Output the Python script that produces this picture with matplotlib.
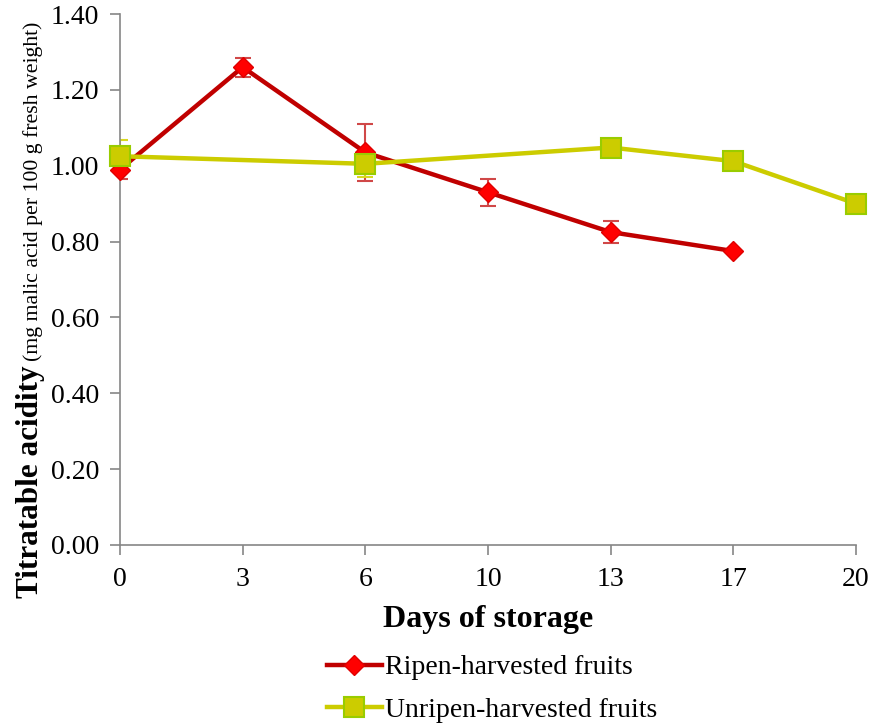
import matplotlib
matplotlib.use("Agg")
import matplotlib.pyplot as plt
import numpy as np

days = ["0", "3", "6", "10", "13", "17", "20"]
ripen_days = ["0", "3", "6", "10", "13", "17"]
ripen_vals = [0.99, 1.26, 1.035, 0.93, 0.825, 0.775]
ripen_err = [0.025, 0.025, 0.075, 0.035, 0.03, 0.0]
unripen_days = ["0", "6", "13", "17", "20"]
unripen_vals = [1.025, 1.005, 1.048, 1.012, 0.90]
unripen_err = [0.044, 0.035, 0.0, 0.0, 0.0]
yticks = [0.0, 0.2, 0.4, 0.6, 0.8, 1.0, 1.2, 1.4]

plt.rcParams['font.family'] = ['Liberation Serif', 'DejaVu Serif']

fig = plt.figure(figsize=(8.71, 7.25), dpi=100)
ax = fig.add_axes([120/871, 1-545/725, (856-120)/871, (545-14)/725])

xi = {d: i for i, d in enumerate(days)}
rx = [xi[d] for d in ripen_days]
ux = [xi[d] for d in unripen_days]

ax.errorbar(rx, ripen_vals, yerr=ripen_err, fmt='none', ecolor='#D04848',
            elinewidth=1.5, capsize=6, capthick=1.5, zorder=2)
ax.errorbar(ux, unripen_vals, yerr=unripen_err, fmt='none', ecolor='#D8D820',
            elinewidth=1.5, capsize=6, capthick=1.5, zorder=2)
ax.plot(rx, ripen_vals, color='#C00000', lw=3.2, marker='D', ms=10.5,
        mfc='#FF0000', mec='#E00000', mew=1, zorder=3, clip_on=False,
        label='Ripen-harvested fruits')
ax.plot(ux, unripen_vals, color='#CCCC00', lw=3.2, marker='s', ms=14.5,
        mfc='#CCCC00', mec='#99CC00', mew=1.5, zorder=4, clip_on=False,
        label='Unripen-harvested fruits')

ax.set_xlim(0, len(days)-1)
ax.set_ylim(0, 1.4)
ax.set_xticks(range(len(days)))
ax.set_xticklabels(days)
ax.set_yticks(yticks)
ax.set_yticklabels([f"{v:.2f}" for v in yticks])
for s in ['top', 'right']:
    ax.spines[s].set_visible(False)
for s in ['left', 'bottom']:
    ax.spines[s].set_color('#868686')
    ax.spines[s].set_linewidth(1.2)
ax.tick_params(axis='both', direction='out', length=7, width=1.2,
               color='#868686', labelsize=20, pad=8)
ax.tick_params(axis='x', pad=9)
ax.set_xlabel('Days of storage', fontsize=23, fontweight='bold', labelpad=9)

# y label in two parts
t1 = fig.text(38/871, 1-598/725, 'Titratable acidity', rotation=90,
              rotation_mode='anchor', ha='left', va='baseline',
              fontsize=22.5, fontweight='bold')
fig.canvas.draw()
bb = t1.get_window_extent()
fig.text(38/871, (bb.y1 + 4)/725, '(mg malic acid per 100 g fresh weight)',
         rotation=90, rotation_mode='anchor', ha='left', va='baseline',
         fontsize=15.7)

fig.legend(loc='upper center', bbox_to_anchor=(492/871, 1-641/725),
           frameon=False, fontsize=20, handlelength=2.0, handletextpad=0.1,
           labelspacing=0.62, borderpad=0)

fig.savefig('out.png', dpi=100)
